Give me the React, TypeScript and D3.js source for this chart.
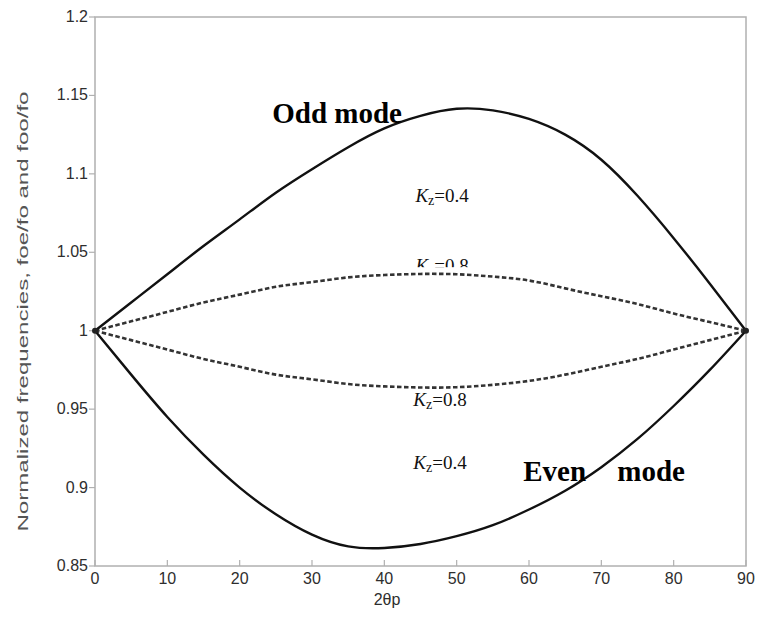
import React, { useRef, useEffect } from 'react';
import * as d3 from 'd3';

// angle 2θp in degrees
const angles = [0, 5, 10, 15, 20, 25, 30, 35, 40, 45, 50, 55, 60, 65, 70, 75, 80, 85, 90];
// odd mode, Kz = 0.4 (solid, upper)
const oddKz04 = [1, 1.018, 1.036, 1.054, 1.071, 1.088, 1.103, 1.117, 1.129, 1.137, 1.1415, 1.1405, 1.135, 1.125, 1.109, 1.086, 1.059, 1.03, 1.0];
// odd mode, Kz = 0.8 (dashed, upper)
const oddKz08 = [1, 1.006, 1.012, 1.018, 1.023, 1.028, 1.031, 1.034, 1.0355, 1.0362, 1.036, 1.0345, 1.032, 1.027, 1.022, 1.017, 1.011, 1.0055, 1.0];
// even mode, Kz = 0.8 (dashed, lower)
const evenKz08 = [1, 0.994, 0.988, 0.982, 0.977, 0.972, 0.969, 0.966, 0.9645, 0.9638, 0.964, 0.9655, 0.968, 0.972, 0.977, 0.982, 0.988, 0.994, 1.0];
// even mode, Kz = 0.4 (solid, lower)
const evenKz04 = [1, 0.972, 0.945, 0.921, 0.9, 0.883, 0.87, 0.8625, 0.8615, 0.864, 0.869, 0.876, 0.886, 0.898, 0.913, 0.931, 0.952, 0.975, 1.0];

const xTicks = [0, 10, 20, 30, 40, 50, 60, 70, 80, 90];
const yTicks = [0.85, 0.9, 0.95, 1, 1.05, 1.1, 1.15, 1.2];

const App = () => {
  const ref = useRef<SVGSVGElement>(null);

  useEffect(() => {
    const svg = d3.select(ref.current);
    svg.selectAll('*').remove();

    const width = 759;
    const height = 623;
    const left = 95;
    const right = 746;
    const top = 17;
    const bottom = 566;

    const x = d3.scaleLinear().domain([0, 90]).range([left, right]);
    const y = d3.scaleLinear().domain([0.85, 1.2]).range([bottom, top]);

    svg.attr('width', width).attr('height', height);
    svg.append('rect').attr('width', width).attr('height', height).attr('fill', '#fff');

    const axisColor = '#b0b0b0';
    const textColor = '#2e2e2e';

    // frame
    svg
      .append('rect')
      .attr('x', left)
      .attr('y', top)
      .attr('width', right - left)
      .attr('height', bottom - top)
      .attr('fill', 'none')
      .attr('stroke', axisColor)
      .attr('stroke-width', 1.5);

    // y ticks
    const yg = svg.append('g');
    yTicks.forEach((t) => {
      yg.append('line')
        .attr('x1', left - 6)
        .attr('x2', left)
        .attr('y1', y(t))
        .attr('y2', y(t))
        .attr('stroke', axisColor)
        .attr('stroke-width', 1.2);
      yg.append('text')
        .attr('x', left - 7)
        .attr('y', y(t) + 5)
        .attr('text-anchor', 'end')
        .attr('font-family', 'Liberation Sans, Arial, sans-serif')
        .attr('font-size', 16)
        .attr('fill', textColor)
        .text(String(t));
    });

    // x ticks
    const xg = svg.append('g');
    xTicks.forEach((t) => {
      xg.append('line')
        .attr('x1', x(t))
        .attr('x2', x(t))
        .attr('y1', bottom)
        .attr('y2', bottom - 6)
        .attr('stroke', axisColor)
        .attr('stroke-width', 1.2);
      xg.append('text')
        .attr('x', x(t))
        .attr('y', bottom + 18)
        .attr('text-anchor', 'middle')
        .attr('font-family', 'Liberation Sans, Arial, sans-serif')
        .attr('font-size', 16)
        .attr('fill', textColor)
        .text(String(t));
    });

    // axis titles
    svg
      .append('text')
      .attr('x', 387)
      .attr('y', 605)
      .attr('text-anchor', 'middle')
      .attr('font-family', 'Liberation Sans, Arial, sans-serif')
      .attr('font-size', 16)
      .attr('fill', textColor)
      .text('2θp');

    svg
      .append('text')
      .attr('transform', `translate(28, ${(top + bottom) / 2 + 20}) rotate(-90)`)
      .attr('text-anchor', 'middle')
      .attr('font-family', 'Liberation Sans, Arial, sans-serif')
      .attr('font-size', 14)
      .attr('fill', '#555')
      .attr('textLength', 440)
      .attr('lengthAdjust', 'spacingAndGlyphs')
      .text('Normalized frequencies, foe/fo and foo/fo');

    // labels that sit behind the curves
    const kzLabel = (xv: number, yv: number, val: string) => {
      const t = svg
        .append('text')
        .attr('x', x(xv))
        .attr('y', y(yv))
        .attr('font-family', 'Liberation Serif, Times New Roman, serif')
        .attr('font-size', 19)
        .attr('fill', '#111');
      t.append('tspan').attr('font-style', 'italic').text('K');
      t.append('tspan').attr('font-size', 14).attr('dy', 3).text('z');
      t.append('tspan').attr('dy', -3).text('=' + val);
    };
    kzLabel(44.3, 1.082, '0.4');
    kzLabel(44.3, 1.0375, '0.8');
    kzLabel(44.0, 0.952, '0.8');
    kzLabel(44.0, 0.912, '0.4');

    // the upper Kz=0.8 label is cut off in the original
    svg
      .append('rect')
      .attr('x', x(43.5))
      .attr('y', y(1.0405))
      .attr('width', 80)
      .attr('height', 12)
      .attr('fill', '#fff');

    const line = d3
      .line<number>()
      .x((d, i) => x(angles[i]))
      .y((d) => y(d))
      .curve(d3.curveNatural);

    const solid = [oddKz04, evenKz04];
    const dashed = [oddKz08, evenKz08];

    dashed.forEach((s) => {
      svg
        .append('path')
        .attr('d', line(s))
        .attr('fill', 'none')
        .attr('stroke', '#333')
        .attr('stroke-width', 2.6)
        .attr('stroke-dasharray', '4.5,2.5');
    });
    solid.forEach((s) => {
      svg
        .append('path')
        .attr('d', line(s))
        .attr('fill', 'none')
        .attr('stroke', '#111')
        .attr('stroke-width', 2.4);
    });

    [0, 90].forEach((a) => {
      svg.append('circle').attr('cx', x(a)).attr('cy', y(1)).attr('r', 3).attr('fill', '#222');
    });

    // mode titles
    const modeText = (xv: number, yv: number, s: string) => {
      svg
        .append('text')
        .attr('x', x(xv))
        .attr('y', y(yv))
        .attr('font-family', 'Liberation Serif, Times New Roman, serif')
        .attr('font-weight', 'bold')
        .attr('font-size', 29)
        .attr('fill', '#000')
        .text(s);
    };
    modeText(24.5, 1.1325, 'Odd mode');
    modeText(59.2, 0.9045, 'Even');
    modeText(72.2, 0.9045, 'mode');
  }, []);

  return (
    <div style={{ position: 'absolute', left: 0, top: 0 }}>
      <svg ref={ref} style={{ display: 'block' }}></svg>
    </div>
  );
};

export default App;
